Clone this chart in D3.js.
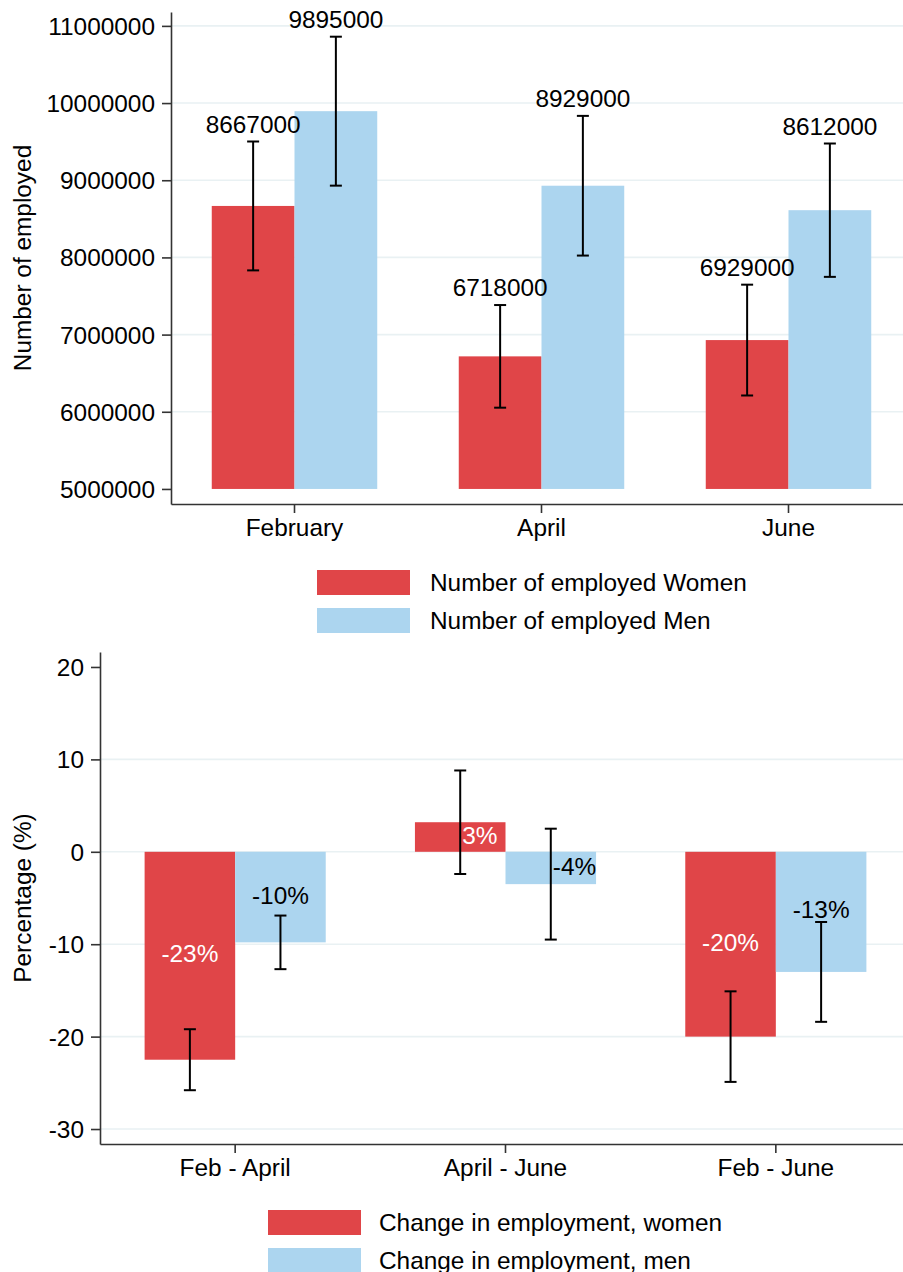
<!DOCTYPE html>
<html>
<head>
<meta charset="utf-8">
<script src="https://cdn.jsdelivr.net/npm/d3@7"></script>
<style>
  body { margin: 0; background: #fff; }
  text { font-family: "Liberation Sans", Arial, Helvetica, sans-serif; }
</style>
</head>
<body>
<div id="chart"></div>
<script>
// top panel: number of employed
const months = ["February", "April", "June"];
const womenCount = [8667000, 6718000, 6929000];
const menCount = [9895000, 8929000, 8612000];
const womenCountErr = [835000, 665000, 718000];
const menCountErr = [965000, 905000, 864000];
const countTicks = [5000000, 6000000, 7000000, 8000000, 9000000, 10000000, 11000000];

// bottom panel: change in employment (%)
const periods = ["Feb - April", "April - June", "Feb - June"];
const womenChange = [-22.5, 3.2, -20.0];
const menChange = [-9.8, -3.5, -13.0];
const womenChangeErr = [3.3, 5.6, 4.9];
const menChangeErr = [2.9, 6.0, 5.4];
const changeTicks = [-30, -20, -10, 0, 10, 20];

const RED = "#e04548";
const BLUE = "#acd5ef";
const GRID = "#e9f1f3";
const AXIS = "#333";
const FS = "24.4px";

const svg = d3.select("#chart").append("svg")
    .attr("width", 903)
    .attr("height", 1272);

// stata style rounding (half away from zero)
const pct = v => `${Math.sign(v) * Math.round(Math.abs(v))}%`;

function drawPanel(cfg) {
    const g = svg.append("g");

    const x0 = d3.scaleBand()
        .domain(cfg.cats)
        .range([cfg.left, cfg.right])
        .paddingInner(0.33)
        .paddingOuter(0.165);

    const x1 = d3.scaleBand()
        .domain(["women", "men"])
        .range([0, x0.bandwidth()]);

    const y = d3.scaleLinear()
        .domain(cfg.yDomain)
        .range([cfg.bottom, cfg.top]);

    // gridlines
    g.selectAll("line.grid")
        .data(cfg.ticks.filter(t => !cfg.noGrid.includes(t)))
        .enter().append("line")
        .attr("class", "grid")
        .attr("x1", cfg.left)
        .attr("x2", 903)
        .attr("y1", d => y(d))
        .attr("y2", d => y(d))
        .attr("stroke", GRID)
        .attr("stroke-width", 1.6);

    const rows = cfg.cats.map((c, i) => [
        { cat: c, key: "women", v: cfg.women[i], e: cfg.womenErr[i] },
        { cat: c, key: "men", v: cfg.men[i], e: cfg.menErr[i] }
    ]).flat();

    const cx = d => x0(d.cat) + x1(d.key) + x1.bandwidth() / 2;

    // bars
    g.selectAll("rect.bar")
        .data(rows)
        .enter().append("rect")
        .attr("class", "bar")
        .attr("x", d => x0(d.cat) + x1(d.key))
        .attr("width", x1.bandwidth())
        .attr("y", d => Math.min(y(d.v), y(cfg.base)))
        .attr("height", d => Math.abs(y(d.v) - y(cfg.base)))
        .attr("fill", d => d.key === "women" ? RED : BLUE);

    // error bars
    const eb = g.selectAll("g.err")
        .data(rows)
        .enter().append("g")
        .attr("class", "err")
        .attr("stroke", "#000")
        .attr("stroke-width", 2);
    eb.append("line")
        .attr("x1", cx).attr("x2", cx)
        .attr("y1", d => y(d.v - d.e))
        .attr("y2", d => y(d.v + d.e));
    eb.append("line")
        .attr("x1", d => cx(d) - 6).attr("x2", d => cx(d) + 6)
        .attr("y1", d => y(d.v + d.e)).attr("y2", d => y(d.v + d.e));
    eb.append("line")
        .attr("x1", d => cx(d) - 6).attr("x2", d => cx(d) + 6)
        .attr("y1", d => y(d.v - d.e)).attr("y2", d => y(d.v - d.e));

    // value labels
    if (cfg.labelMode === "above") {
        g.selectAll("text.val")
            .data(rows)
            .enter().append("text")
            .attr("class", "val")
            .attr("x", cx)
            .attr("y", d => y(d.v + d.e) - 9)
            .attr("text-anchor", "middle")
            .style("font-size", FS)
            .text(d => d.v);
    } else {
        g.selectAll("text.val")
            .data(rows)
            .enter().append("text")
            .attr("class", "val")
            .each(function(d) {
                const h = Math.abs(y(d.v) - y(0));
                const small = h < 40;
                d3.select(this)
                    .attr("x", small ? cx(d) + 2 : cx(d))
                    .attr("text-anchor", small ? "start" : "middle");
            })
            .attr("y", d => (y(d.v) + y(0)) / 2 - 2)
            .attr("dy", "0.35em")
            .attr("fill", d => d.key === "women" ? "#fff" : "#000")
            .style("font-size", FS)
            .text(d => pct(d.v));
    }

    // axes
    const yAxis = g.append("g")
        .attr("transform", `translate(${cfg.left},0)`)
        .call(d3.axisLeft(y).tickValues(cfg.ticks).tickSize(9).tickSizeOuter(0)
            .tickPadding(7).tickFormat(d => String(d)));

    const xAxis = g.append("g")
        .attr("transform", `translate(0,${cfg.bottom})`)
        .call(d3.axisBottom(x0).tickSize(9).tickSizeOuter(0).tickPadding(8));

    [yAxis, xAxis].forEach(a => {
        a.select(".domain").attr("stroke", AXIS).attr("stroke-width", 1.6);
        a.selectAll(".tick line").attr("stroke", AXIS).attr("stroke-width", 1.6);
        a.selectAll(".tick text")
            .attr("fill", "#000")
            .style("font-size", FS)
            .style("font-family", "'Liberation Sans', Arial, Helvetica, sans-serif");
    });
    xAxis.selectAll(".tick text").attr("dy", null).attr("y", 32);
    yAxis.selectAll(".tick text").attr("dy", "0.35em");

    // axis title
    g.append("text")
        .attr("transform", `translate(31,${(cfg.top + cfg.bottom) / 2}) rotate(-90)`)
        .attr("text-anchor", "middle")
        .style("font-size", FS)
        .text(cfg.yTitle);

    // legend
    const leg = g.selectAll("g.leg")
        .data(cfg.legend)
        .enter().append("g")
        .attr("class", "leg")
        .attr("transform", (d, i) => `translate(${cfg.legendX},${cfg.legendY + i * 38})`);
    leg.append("rect")
        .attr("width", 93)
        .attr("height", 25)
        .attr("fill", (d, i) => i === 0 ? RED : BLUE);
    leg.append("text")
        .attr("x", 93 + cfg.legendGap)
        .attr("y", 12.5)
        .attr("dy", "0.35em")
        .style("font-size", FS)
        .text(d => d);
}

drawPanel({
    cats: months,
    women: womenCount, men: menCount,
    womenErr: womenCountErr, menErr: menCountErr,
    ticks: countTicks, noGrid: [5000000],
    yDomain: [4805000, 11180000], base: 5000000,
    left: 171, right: 912, top: 12, bottom: 504,
    labelMode: "above",
    yTitle: "Number of employed",
    legend: ["Number of employed Women", "Number of employed Men"],
    legendX: 317, legendY: 570, legendGap: 20
});

drawPanel({
    cats: periods,
    women: womenChange, men: menChange,
    womenErr: womenChangeErr, menErr: menChangeErr,
    ticks: changeTicks, noGrid: [20],
    yDomain: [-31.62, 21.62], base: 0,
    left: 100, right: 911, top: 652, bottom: 1144,
    labelMode: "inside",
    yTitle: "Percentage (%)",
    legend: ["Change in employment, women", "Change in employment, men"],
    legendX: 268, legendY: 1210, legendGap: 18
});
</script>
</body>
</html>
